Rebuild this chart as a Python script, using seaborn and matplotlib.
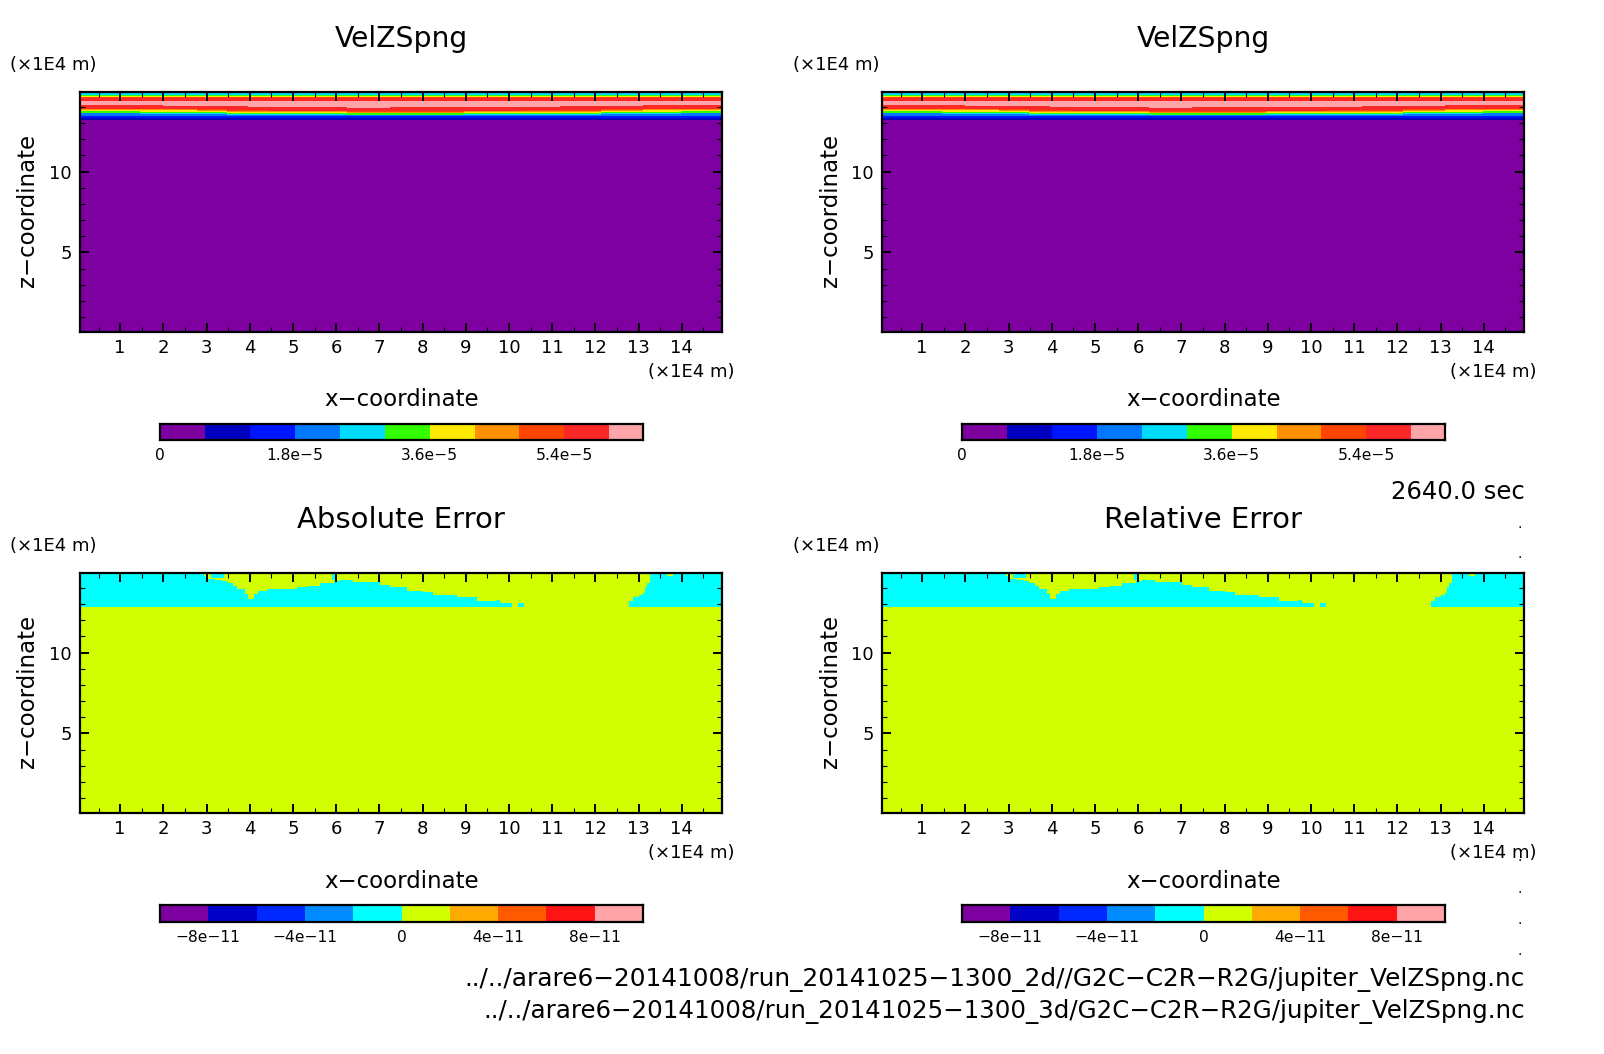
import matplotlib
matplotlib.use("Agg")
import matplotlib.pyplot as plt
import numpy as np
import seaborn as sns
from matplotlib.colors import ListedColormap

W, H = 1604, 1054

# axis ranges, in 1E4 m
x_range = (0.07, 14.93)
z_range = (0.07, 14.93)
x_major = list(range(1, 15))
z_major = [5, 10]
x_minor = [v + 0.5 for v in range(0, 15)]
z_minor = [v for v in range(1, 15) if v not in z_major]

# VelZSpng colours
vel_colors = ["#7f00a0", "#0000be", "#0014ff", "#0078ff", "#00dcff", "#32ff00",
              "#ffeb00", "#ff9100", "#ff4600", "#ff2828", "#ffa5aa"]
vel_step = 6e-6
vel_top = 6.45e-5
vel_ticks = [0, 1.8e-5, 3.6e-5, 5.4e-5]
vel_ticklabels = ["0", "1.8e\u22125", "3.6e\u22125", "5.4e\u22125"]

# error colours
err_colors = ["#7f00a0", "#0000c8", "#0028ff", "#008cff", "#00ffff", "#d2ff00",
              "#ffaa00", "#ff5a00", "#ff1414", "#ffa5aa"]
err_step = 2e-11
err_bottom = -1e-10
err_ticks = [-8e-11, -4e-11, 0, 4e-11, 8e-11]
err_ticklabels = ["\u22128e\u221211", "\u22124e\u221211", "0", "4e\u221211", "8e\u221211"]

# VelZSpng: sections along x and the height where each colour ends
sect_x = [0.07, 1.46, 2.0, 2.78, 3.48, 3.97, 4.43, 5.29, 6.26, 7.25, 8.95, 10.27, 11.19, 12.12, 13.11, 13.97]
purple_top = [13.20] * 16
navy_top = [13.32] * 16
blue_top = [13.46] * 16
sky_top = [13.6, 13.58, 13.56, 13.54, 13.52, 13.5, 13.5, 13.5, 13.48, 13.48, 13.5, 13.5, 13.52, 13.54, 13.56, 13.6]
cyan_top = [13.66, 13.64, 13.62, 13.6, 13.58, 13.56, 13.55, 13.55, 13.53, 13.53, 13.55, 13.56, 13.58, 13.6, 13.62, 13.66]
green_top = [13.77, 13.72, 13.72, 13.7, 13.66, 13.63, 13.6, 13.62, 13.6, 13.6, 13.62, 13.64, 13.66, 13.7, 13.72, 13.77]
yellow_top = [13.81, 13.81, 13.81, 13.77, 13.72, 13.72, 13.68, 13.68, 13.66, 13.66, 13.68, 13.72, 13.72, 13.77, 13.81, 13.81]
orange_top = [13.85, 13.85, 13.85, 13.82, 13.78, 13.78, 13.74, 13.74, 13.71, 13.71, 13.74, 13.78, 13.78, 13.82, 13.85, 13.85]
redor_top = [13.88, 13.88, 13.88, 13.85, 13.81, 13.81, 13.78, 13.78, 13.75, 13.75, 13.78, 13.81, 13.81, 13.85, 13.88, 13.88]
red_top = [14.12, 14.12, 14.06, 14.06, 14.06, 13.98, 13.98, 13.98, 13.92, 13.98, 14.02, 14.02, 14.06, 14.06, 14.12, 14.12]
# above the pink layer the colours come back in reverse order
upper_tops = [14.37, 14.56, 14.6, 14.65, 14.71, 14.77, 14.93]
upper_levels = [10, 9, 8, 7, 6, 5, 4]

# error: top of the cyan patch along x
err_x = [0.07, 2.85, 2.95, 3.04, 3.2, 3.35, 3.47, 3.6, 3.7, 3.9, 3.95, 4.1, 4.2, 4.4, 4.78, 5.09, 5.35, 5.63,
         5.94, 6.09, 6.4, 6.94, 7.02, 7.25, 7.64, 8.02, 8.25, 8.79, 9.26, 9.72, 9.8, 10.03, 10.07, 12.77, 12.88,
         13.0, 13.11, 13.15, 13.2, 13.27]
err_z = [14.93, 14.85, 14.75, 14.55, 14.5, 14.42, 14.29, 14.15, 13.92, 13.6, 13.35, 13.6, 13.8, 13.92, 13.92,
         14.05, 14.15, 14.29, 14.42, 14.5, 14.39, 14.35, 14.19, 14.08, 13.83, 13.77, 13.57, 13.42, 13.22, 13.26,
         13.05, 13.1, 12.8, 13.22, 13.42, 13.55, 13.67, 14.08, 14.29, 14.93]
err_floor = 12.8
# small islands: x from, x to, z from, z to, colour
err_islands = [(3.1, 3.4, 14.65, 14.85, 4), (5.9, 6.0, 14.5, 14.85, 4),
               (13.65, 13.8, 14.75, 14.87, 5), (10.2, 10.35, 12.84, 13.05, 4)]

nx, nz = 642, 240
x_cells = x_range[0] + (np.arange(nx) + 0.5) / nx * (x_range[1] - x_range[0])
z_cells = z_range[0] + (np.arange(nz) + 0.5) / nz * (z_range[1] - z_range[0])


def vel_field():
    tops = [purple_top, navy_top, blue_top, sky_top, cyan_top, green_top, yellow_top, orange_top, redor_top, red_top]
    grid = np.full((nz, nx), 3)
    for i, x in enumerate(x_cells):
        s = np.searchsorted(sect_x, x) - 1
        edges = [t[s] for t in tops] + upper_tops
        levels = list(range(10)) + upper_levels + [3]
        grid[:, i] = np.array(levels)[np.searchsorted(edges, z_cells)]
    return grid


def err_field():
    grid = np.full((nz, nx), 5)
    for i, x in enumerate(x_cells):
        s = np.searchsorted(err_x, x) - 1
        grid[(z_cells > err_floor) & (z_cells < err_z[s]), i] = 4
    for x0, x1, z0, z1, level in err_islands:
        xs = (x_cells > x0) & (x_cells < x1)
        zs = (z_cells > z0) & (z_cells < z1)
        grid[np.ix_(zs, xs)] = level
    return grid


def rect(left, top, right, bottom):
    return [left / W, 1 - bottom / H, (right - left) / W, (bottom - top) / H]


def text(fig, px, py, s, **kw):
    kw.setdefault("ha", "center")
    kw.setdefault("va", "center")
    fig.text(px / W, 1 - py / H, s, **kw)


def draw_panel(fig, left, top, grid, colors, title, title_size, unit_x):
    ax = fig.add_axes(rect(left, top, left + 642, top + 240))
    sns.heatmap(grid, ax=ax, cmap=ListedColormap(colors), vmin=-0.5, vmax=len(colors) - 0.5,
                cbar=False, xticklabels=False, yticklabels=False)
    ax.set_axisbelow(False)
    ax.set_xlim(0, nx)
    ax.set_ylim(0, nz)
    to_x = lambda v: (np.asarray(v) - x_range[0]) / (x_range[1] - x_range[0]) * nx
    to_z = lambda v: (np.asarray(v) - z_range[0]) / (z_range[1] - z_range[0]) * nz
    ax.set_xticks(to_x(x_major))
    ax.set_xticklabels([str(v) for v in x_major])
    ax.set_yticks(to_z(z_major))
    ax.set_yticklabels([str(v) for v in z_major])
    ax.set_xticks(to_x(x_minor), minor=True)
    ax.set_yticks(to_z(z_minor), minor=True)
    ax.tick_params(which="major", direction="in", length=6.5, width=1.4, top=True, right=True,
                   bottom=True, left=True, labelsize=13, color="black")
    ax.tick_params(which="minor", direction="in", length=3.5, width=0.8, top=True, right=True,
                   bottom=True, left=True, color="black")
    ax.tick_params(axis="x", which="major", pad=5)
    ax.tick_params(axis="y", which="major", labelrotation=0, pad=6)
    for spine in ax.spines.values():
        spine.set_visible(True)
        spine.set_linewidth(1.6)
        spine.set_color("black")

    cx = left + 321
    text(fig, cx, top - 53, title, fontsize=title_size)
    text(fig, unit_x, top - 27, "(\u00d71E4 m)", fontsize=13, ha="left")
    text(fig, left + 654, top + 280, "(\u00d71E4 m)", fontsize=13, ha="right")
    text(fig, cx + 1, top + 308, "x\u2212coordinate", fontsize=16.5)
    text(fig, left - 52, top + 118, "z\u2212coordinate", fontsize=16.5, rotation=90)


def draw_vel_bar(fig, left, top):
    ax = fig.add_axes(rect(left, top, left + 483, top + 16))
    cells = np.arange(len(vel_colors))[np.newaxis, :]
    sns.heatmap(cells, ax=ax, cmap=ListedColormap(vel_colors), vmin=-0.5, vmax=len(vel_colors) - 0.5,
                cbar=False, xticklabels=False, yticklabels=False)
    ax.set_xlim(0, vel_top / vel_step)
    ax.set_xticks(np.array(vel_ticks) / vel_step)
    ax.set_xticklabels(vel_ticklabels)
    finish_bar(ax)


def draw_err_bar(fig, left, top):
    ax = fig.add_axes(rect(left, top, left + 483, top + 17))
    cells = np.arange(len(err_colors))[np.newaxis, :]
    sns.heatmap(cells, ax=ax, cmap=ListedColormap(err_colors), vmin=-0.5, vmax=len(err_colors) - 0.5,
                cbar=False, xticklabels=False, yticklabels=False)
    ax.set_xlim(0, 10)
    ax.set_xticks((np.array(err_ticks) - err_bottom) / err_step)
    ax.set_xticklabels(err_ticklabels)
    finish_bar(ax)


def finish_bar(ax):
    ax.tick_params(axis="x", length=0, labelsize=11.2, pad=5.5, rotation=0)
    for spine in ax.spines.values():
        spine.set_visible(True)
        spine.set_linewidth(1.6)
        spine.set_color("black")


sns.set_style("white")
plt.rcParams["font.family"] = ["DejaVu Sans"]
plt.rcParams["text.color"] = "black"
plt.rcParams["xtick.color"] = "black"
plt.rcParams["ytick.color"] = "black"

fig = plt.figure(figsize=(W / 100, H / 100), dpi=100)
vel = vel_field()
err = err_field()

draw_panel(fig, 80, 92, vel, vel_colors, "VelZSpng", 20.3, 10)
draw_panel(fig, 882, 92, vel, vel_colors, "VelZSpng", 20.3, 793)
draw_vel_bar(fig, 160, 424)
draw_vel_bar(fig, 962, 424)
draw_panel(fig, 80, 573, err, err_colors, "Absolute Error", 21, 10)
draw_panel(fig, 882, 573, err, err_colors, "Relative Error", 21, 793)
draw_err_bar(fig, 160, 905)
draw_err_bar(fig, 962, 905)

text(fig, 1525, 492, "2640.0 sec", fontsize=17.5, ha="right")
text(fig, 1525, 979, "../../arare6\u221220141008/run_20141025\u22121300_2d//G2C\u2212C2R\u2212R2G/jupiter_VelZSpng.nc",
     fontsize=17.8, ha="right")
text(fig, 1525, 1011, "../../arare6\u221220141008/run_20141025\u22121300_3d/G2C\u2212C2R\u2212R2G/jupiter_VelZSpng.nc",
     fontsize=17.65, ha="right")
for py in (528, 558, 861, 893, 924, 955):
    text(fig, 1520, py, ".", fontsize=10, va="baseline")

fig.savefig("out.png", dpi=100, facecolor="white")
